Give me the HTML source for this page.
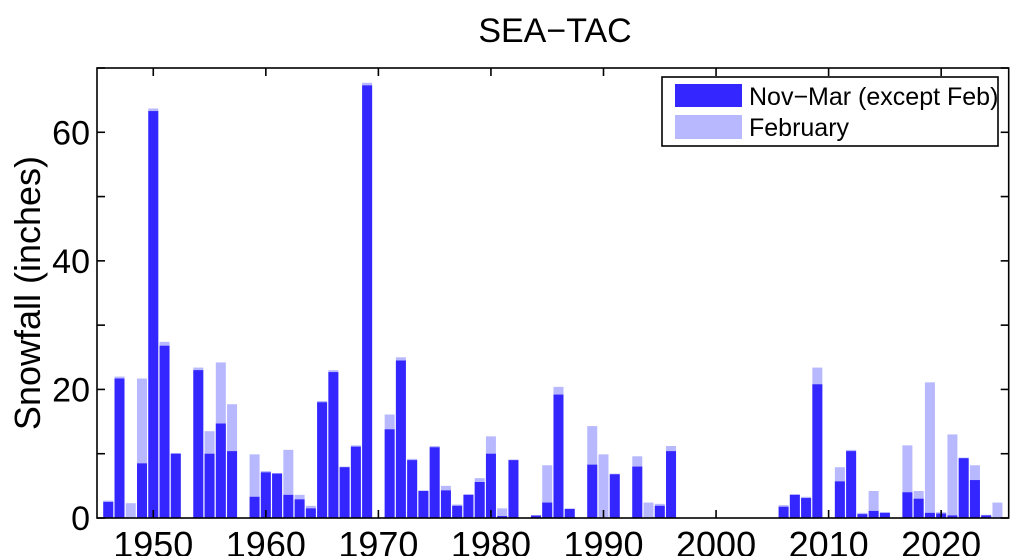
<!DOCTYPE html>
<html><head><meta charset="utf-8"><style>
html,body{margin:0;padding:0;background:#fff;}
svg{display:block;font-family:"Liberation Sans",Arial,sans-serif;}
</style></head><body>
<svg id="s" width="1023" height="556" viewBox="0 0 1023 556" xmlns="http://www.w3.org/2000/svg">
<rect width="1023" height="556" fill="#fff"/>
<g id="bars"></g>
<g id="ax" stroke="#000" stroke-width="1.6" fill="none"></g>
<g id="lab" fill="#000"></g>
<text x="555" y="42" font-size="34" text-anchor="middle">SEA−TAC</text>
<text transform="translate(40,293) rotate(-90)" font-size="36" text-anchor="middle">Snowfall (inches)</text>
<rect x="662" y="77" width="336" height="69" fill="#fff" stroke="#000" stroke-width="1.6"/>
<rect x="675" y="84" width="67" height="23" fill="#3326ff"/>
<rect x="675" y="115" width="67" height="24" fill="#b8b8ff"/>
<text x="749" y="105" font-size="25">Nov−Mar (except Feb)</text>
<text x="749" y="136" font-size="25">February</text>
</svg>
<script>
var L=97,R=1008.7,T=68,B=518;
function X(y){return L+(y-1945)*(R-L)/81;}
function Y(v){return B-v*(B-T)/70;}
var d={1946:[2.5,2.7],1947:[21.7,22],1948:[0,2.3],1949:[8.5,21.7],1950:[63.3,63.7],1951:[26.8,27.4],1952:[10,10.1],
1954:[23,23.4],1955:[10,13.5],1956:[14.7,24.2],1957:[10.4,17.7],1959:[3.3,9.9],1960:[7.1,7.3],1961:[6.9,7],
1962:[3.6,10.6],1963:[2.9,3.6],1964:[1.5,1.9],1965:[18,18.2],1966:[22.7,23],1967:[7.9,8],1968:[11.1,11.3],
1969:[67.3,67.7],1971:[13.8,16.1],1972:[24.5,25],1973:[9,9.2],1974:[4.2,4.3],1975:[11,11.2],1976:[4.3,5],
1977:[1.9,2.1],1978:[3.6,3.7],1979:[5.6,6.2],1980:[10,12.7],1981:[0.3,1.5],1982:[9,9.1],1984:[0.4,0.4],
1985:[2.4,8.2],1986:[19.2,20.4],1987:[1.4,1.5],1989:[8.3,14.3],1990:[0,9.9],1991:[6.8,6.9],1993:[8,9.6],
1994:[0,2.4],1995:[1.9,2.2],1996:[10.4,11.2],2006:[1.75,2],2007:[3.6,3.7],2008:[3.1,3.3],2009:[20.8,23.4],
2011:[5.7,7.9],2012:[10.4,10.6],2013:[0.6,0.8],2014:[1.1,4.2],2015:[0.8,0.9],2017:[4,11.3],2018:[3,4.2],
2019:[0.8,21.1],2020:[0.7,0.9],2021:[0.4,13],2022:[9.3,9.4],2023:[5.9,8.2],2024:[0.4,0.5],2025:[0,2.4]};
var ns="http://www.w3.org/2000/svg",bars=document.getElementById('bars'),ax=document.getElementById('ax'),lab=document.getElementById('lab');
function el(p,t,a){var e=document.createElementNS(ns,t);for(var k in a)e.setAttribute(k,a[k]);p.appendChild(e);return e;}
for(var y in d){var v=d[y],x=X(+y)-5;
 if(v[1]>0)el(bars,'rect',{x:x,y:Y(v[1]),width:10,height:B-Y(v[1]),fill:'#b8b8ff'});
 if(v[0]>0)el(bars,'rect',{x:x,y:Y(v[0]),width:10,height:B-Y(v[0]),fill:'#3326ff'});
}
el(ax,'rect',{x:L,y:T,width:R-L,height:B-T});
for(var v=0;v<=70;v+=10){var yy=Y(v);
 el(ax,'line',{x1:L,y1:yy,x2:L+8,y2:yy});el(ax,'line',{x1:R,y1:yy,x2:R-8,y2:yy});
 if(v%20==0){var t=el(lab,'text',{x:L-7,y:yy+12,'text-anchor':'end','font-size':34});t.textContent=v;}}
for(var yr=1950;yr<=2020;yr+=10){var xx=X(yr);
 el(ax,'line',{x1:xx,y1:B,x2:xx,y2:B-8});el(ax,'line',{x1:xx,y1:T,x2:xx,y2:T+8});
 var t=el(lab,'text',{x:xx,y:557,'text-anchor':'middle','font-size':36});t.textContent=yr;}
</script>
</body></html>
